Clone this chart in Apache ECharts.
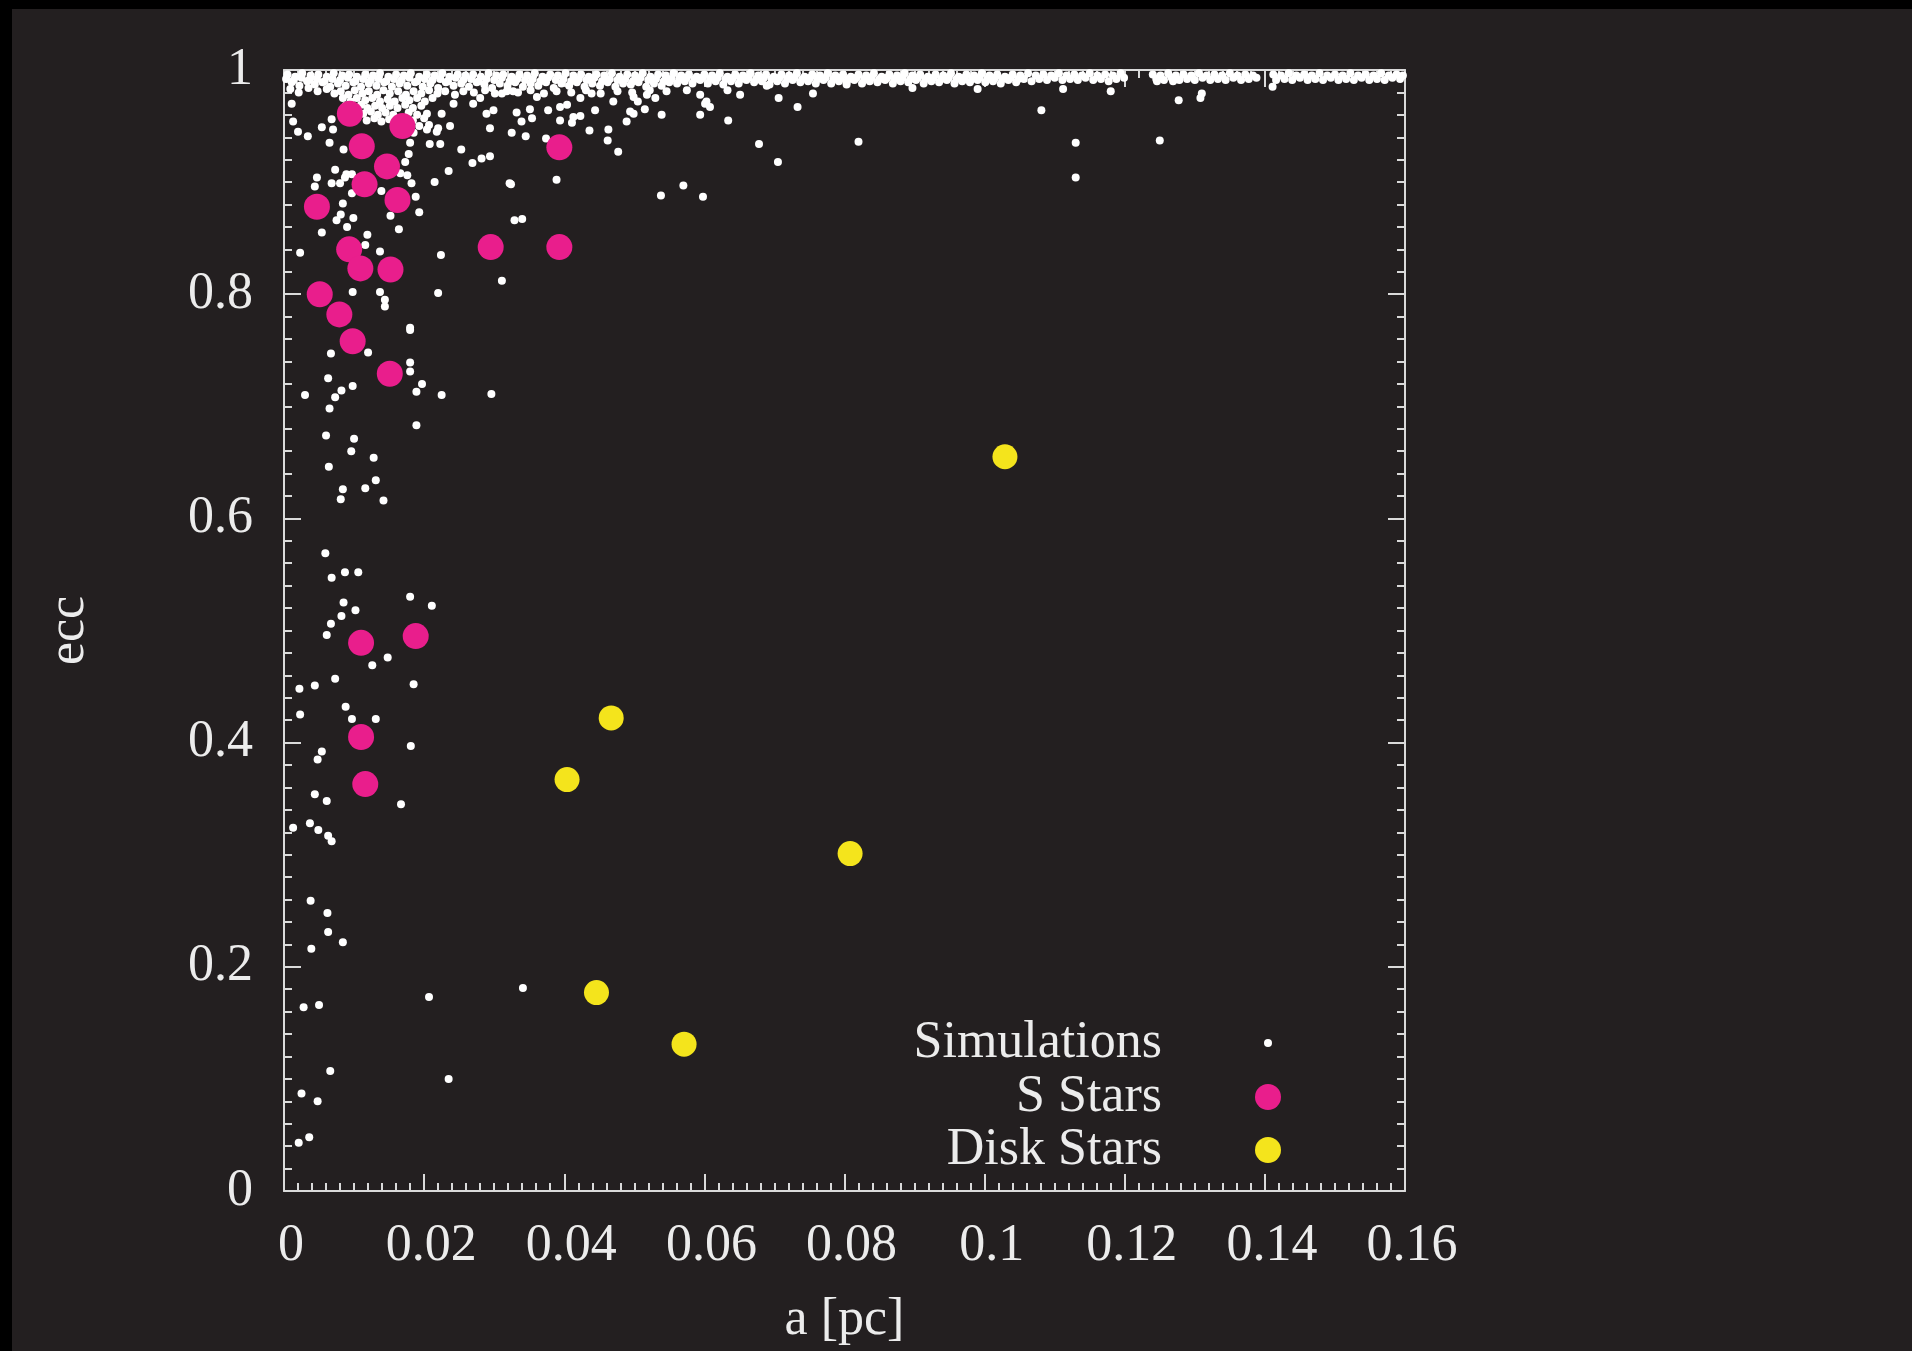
<!DOCTYPE html>
<html>
<head>
<meta charset="utf-8">
<script src="https://cdn.jsdelivr.net/npm/echarts@6/dist/echarts.min.js"></script>
<style>
  html, body { margin: 0; padding: 0; background: #000; width: 1912px; height: 1351px; overflow: hidden; }
  #chart { position: absolute; left: 12px; top: 9px; width: 1900px; height: 1342px; background: #231f20; }
</style>
</head>
<body>
<div id="chart"></div>
<script>
// Observed S stars: semi-major axis a [pc] and eccentricity
const sStarA = [0.0094, 0.0169, 0.0111, 0.0393, 0.0147, 0.0115, 0.0162, 0.0047, 0.0295, 0.0393, 0.0093,
                0.0109, 0.0152, 0.0051, 0.0079, 0.0098, 0.0151, 0.0110, 0.0188, 0.0110, 0.0116];
const sStarE = [0.961, 0.950, 0.932, 0.931, 0.914, 0.898, 0.884, 0.878, 0.842, 0.842, 0.840,
                0.823, 0.822, 0.800, 0.782, 0.758, 0.729, 0.489, 0.495, 0.405, 0.363];

// Observed disk stars
const diskA = [0.1029, 0.0467, 0.0404, 0.0808, 0.0446, 0.0571];
const diskE = [0.655, 0.422, 0.367, 0.301, 0.177, 0.131];

// Simulated orbits, [a, ecc]: the crowded near-radial band just below ecc = 1
const simBand = [
  [0.0005,0.996],[0.0016,0.994],[0.0026,0.997],[0.0038,0.995],[0.0049,0.996],[0.0061,0.994],[0.0071,0.997],[0.0083,0.995],
  [0.0093,0.996],[0.0104,0.994],[0.0116,0.996],[0.0127,0.995],[0.0137,0.997],[0.0149,0.994],[0.0160,0.996],[0.0171,0.995],
  [0.0181,0.997],[0.0193,0.994],[0.0204,0.996],[0.0215,0.995],[0.0226,0.997],[0.0236,0.994],[0.0248,0.996],[0.0259,0.995],
  [0.0270,0.996],[0.0281,0.994],[0.0292,0.997],[0.0303,0.995],[0.0313,0.996],[0.0325,0.994],[0.0336,0.996],[0.0347,0.995],
  [0.0358,0.997],[0.0369,0.994],[0.0380,0.996],[0.0391,0.995],[0.0402,0.997],[0.0413,0.995],[0.0424,0.996],[0.0435,0.994],
  [0.0446,0.996],[0.0457,0.995],[0.0468,0.997],[0.0479,0.994],[0.0490,0.996],[0.0501,0.995],[0.0512,0.997],[0.0523,0.994],
  [0.0534,0.996],[0.0545,0.995],[0.0556,0.997],[0.0567,0.995],[0.0578,0.996],[0.0589,0.994],[0.0600,0.996],[0.0611,0.995],
  [0.0622,0.997],[0.0633,0.994],[0.0644,0.996],[0.0655,0.995],[0.0666,0.997],[0.0677,0.995],[0.0688,0.996],[0.0699,0.994],
  [0.0710,0.996],[0.0721,0.995],[0.0732,0.997],[0.0743,0.994],[0.0754,0.996],[0.0765,0.995],[0.0776,0.997],[0.0787,0.995],
  [0.0798,0.996],[0.0809,0.994],[0.0820,0.996],[0.0831,0.995],[0.0842,0.997],[0.0853,0.994],[0.0864,0.996],[0.0875,0.995],
  [0.0886,0.997],[0.0897,0.995],[0.0908,0.996],[0.0919,0.994],[0.0930,0.996],[0.0941,0.995],[0.0952,0.997],[0.0963,0.994],
  [0.0974,0.996],[0.0985,0.995],[0.0996,0.997],[0.1007,0.995],[0.1018,0.996],[0.1029,0.994],[0.1040,0.996],[0.1051,0.995],
  [0.1062,0.997],[0.1073,0.995],[0.1084,0.996],[0.1095,0.995],[0.1106,0.997],[0.1117,0.995],[0.1128,0.996],[0.1139,0.995],
  [0.1150,0.997],[0.1161,0.995],[0.1172,0.996],[0.1183,0.995],[0.1194,0.997],[0.1240,0.996],[0.1251,0.995],[0.1262,0.997],
  [0.1273,0.995],[0.1284,0.996],[0.1295,0.995],[0.1306,0.997],[0.1317,0.995],[0.1328,0.996],[0.1339,0.995],[0.1350,0.997],
  [0.1361,0.995],[0.1372,0.996],[0.1383,0.995],[0.1412,0.996],[0.1423,0.995],[0.1434,0.997],[0.1445,0.995],[0.1456,0.996],
  [0.1467,0.995],[0.1478,0.997],[0.1489,0.995],[0.1500,0.996],[0.1511,0.995],[0.1522,0.997],[0.1533,0.995],[0.1544,0.996],
  [0.1555,0.995],[0.1566,0.997],[0.1577,0.995],[0.1588,0.996],[0.1597,0.995],
  [0.0003,0.992],[0.0014,0.991],[0.0025,0.993],[0.0036,0.991],[0.0047,0.992],[0.0058,0.990],[0.0069,0.992],[0.0080,0.991],
  [0.0091,0.993],[0.0102,0.990],[0.0113,0.992],[0.0124,0.991],[0.0135,0.992],[0.0146,0.990],[0.0157,0.992],[0.0168,0.991],
  [0.0179,0.993],[0.0190,0.990],[0.0201,0.992],[0.0212,0.991],[0.0223,0.992],[0.0234,0.990],[0.0245,0.993],[0.0256,0.991],
  [0.0267,0.992],[0.0278,0.990],[0.0289,0.992],[0.0300,0.991],[0.0311,0.993],[0.0322,0.990],[0.0333,0.992],[0.0344,0.991],
  [0.0355,0.992],[0.0366,0.990],[0.0377,0.993],[0.0388,0.991],[0.0399,0.992],[0.0410,0.990],[0.0421,0.992],[0.0432,0.991],
  [0.0443,0.993],[0.0454,0.990],[0.0465,0.992],[0.0476,0.991],[0.0487,0.992],[0.0498,0.990],[0.0509,0.993],[0.0520,0.991],
  [0.0531,0.992],[0.0542,0.990],[0.0553,0.992],[0.0564,0.992],[0.0575,0.993],[0.0586,0.992],[0.0597,0.993],[0.0608,0.992],
  [0.0619,0.993],[0.0630,0.992],[0.0641,0.993],[0.0652,0.992],[0.0663,0.993],[0.0674,0.992],[0.0685,0.993],[0.0696,0.992],
  [0.0707,0.993],[0.0718,0.992],[0.0729,0.993],[0.0740,0.992],[0.0751,0.993],[0.0762,0.992],[0.0773,0.993],[0.0784,0.992],
  [0.0795,0.993],[0.0806,0.992],[0.0817,0.993],[0.0828,0.992],[0.0839,0.993],[0.0850,0.992],[0.0861,0.993],[0.0872,0.992],
  [0.0883,0.993],[0.0894,0.992],[0.0905,0.993],[0.0916,0.992],[0.0927,0.993],[0.0938,0.992],[0.0949,0.993],[0.0960,0.992],
  [0.0971,0.993],[0.0982,0.992],[0.0993,0.993],[0.1004,0.992],[0.1015,0.993],[0.1026,0.992],[0.1037,0.993],[0.1048,0.992],
  [0.0011,0.989],[0.0022,0.986],[0.0033,0.990],[0.0044,0.987],[0.0055,0.989],[0.0066,0.985],[0.0077,0.988],[0.0088,0.986],
  [0.0099,0.989],[0.0110,0.985],[0.0121,0.988],[0.0132,0.986],[0.0143,0.989],[0.0154,0.985],[0.0165,0.988],[0.0176,0.986],
  [0.0187,0.989],[0.0198,0.985],[0.0209,0.988],[0.0220,0.984],[0.0231,0.989],[0.0242,0.986],[0.0253,0.988],[0.0264,0.985],
  [0.0275,0.989],[0.0286,0.987],[0.0297,0.984],[0.0308,0.988],[0.0319,0.986],[0.0330,0.989],[0.0341,0.985],[0.0352,0.988],
  [0.0363,0.986],[0.0374,0.989],[0.0385,0.984],[0.0396,0.988],[0.0407,0.986],[0.0418,0.989],[0.0429,0.985],[0.0440,0.988],
  [0.0451,0.986],[0.0462,0.989],[0.0473,0.985],[0.0484,0.988],[0.0495,0.987],[0.0506,0.989],[0.0517,0.985],[0.0528,0.988],
  [0.0539,0.986],[0.0550,0.989],[0.0561,0.988],[0.0572,0.990],[0.0583,0.988],[0.0594,0.991],[0.0605,0.988],[0.0616,0.990],
  [0.0627,0.987],[0.0638,0.990],[0.0649,0.988],[0.0660,0.991],[0.0671,0.989],[0.0682,0.990],[0.0693,0.987],[0.0704,0.990],
  [0.0715,0.988],[0.0726,0.991],[0.0737,0.989],[0.0748,0.990],[0.0759,0.988],[0.0770,0.991],[0.0781,0.988],[0.0792,0.990],
  [0.0803,0.989],[0.0814,0.991],[0.0825,0.988],[0.0836,0.990],[0.0847,0.989],[0.0858,0.991],[0.0869,0.988],[0.0880,0.990],
  [0.0891,0.989],[0.0902,0.991],[0.0913,0.988],[0.0924,0.990],[0.0935,0.989],[0.0946,0.991],[0.0957,0.988],[0.0968,0.990],
  [0.0979,0.989],[0.0990,0.991],[0.1001,0.989],[0.1012,0.990],[0.1023,0.988],[0.1034,0.991],[0.1045,0.989],[0.1056,0.992],
  [0.1067,0.990],[0.1078,0.992],[0.1089,0.991],[0.1100,0.993],[0.1111,0.991],[0.1122,0.992],[0.1133,0.991],[0.1144,0.993],
  [0.1155,0.991],[0.1166,0.992],[0.1177,0.990],[0.1188,0.992],[0.1199,0.993],[0.1245,0.992],[0.1256,0.991],[0.1267,0.993],
  [0.1278,0.991],[0.1289,0.992],[0.1300,0.991],[0.1311,0.993],[0.1322,0.991],[0.1333,0.992],[0.1344,0.991],[0.1355,0.993],
  [0.1366,0.991],[0.1377,0.992],[0.1388,0.993],[0.1416,0.991],[0.1428,0.992],[0.1439,0.991],[0.1450,0.993],[0.1461,0.991],
  [0.1472,0.992],[0.1483,0.991],[0.1494,0.993],[0.1505,0.991],[0.1516,0.992],[0.1527,0.991],[0.1538,0.993],[0.1549,0.991],
  [0.1560,0.992],[0.1571,0.991],[0.1582,0.993],[0.1593,0.992]
];

// Simulated orbits: the thick clump at small a just under the band
const simCore = [
  [0.0009,0.983],[0.0021,0.980],[0.0035,0.984],[0.0048,0.981],[0.0061,0.983],[0.0072,0.979],[0.0081,0.981],[0.0092,0.978],
  [0.0101,0.982],[0.0112,0.979],[0.0121,0.981],[0.0133,0.978],[0.0142,0.982],[0.0151,0.979],[0.0163,0.981],[0.0174,0.978],
  [0.0185,0.981],[0.0196,0.979],[0.0207,0.982],[0.0219,0.979],[0.0230,0.981],[0.0244,0.978],[0.0256,0.981],[0.0271,0.980],
  [0.0287,0.982],[0.0301,0.979],[0.0318,0.981],[0.0334,0.980],[0.0352,0.982],[0.0371,0.979],[0.0389,0.981],[0.0410,0.980],
  [0.0431,0.982],[0.0452,0.979],[0.0476,0.981],[0.0497,0.980],[0.0522,0.982],
  [0.0084,0.975],[0.0095,0.972],[0.0104,0.975],[0.0116,0.973],[0.0126,0.975],[0.0137,0.972],[0.0148,0.974],[0.0158,0.972],
  [0.0169,0.975],[0.0179,0.973],[0.0190,0.975],[0.0201,0.972],[0.0212,0.975],[0.0088,0.968],
  [0.0099,0.967],[0.0110,0.969],[0.0119,0.966],[0.0130,0.968],[0.0140,0.966],[0.0151,0.968],[0.0162,0.966],[0.0173,0.969],
  [0.0184,0.966],[0.0196,0.968],
  [0.0113,0.961],[0.0124,0.963],[0.0134,0.960],[0.0145,0.962],[0.0156,0.960],[0.0178,0.962],[0.0190,0.960],
  [0.0118,0.955],[0.0129,0.957],[0.0139,0.954],[0.0150,0.956],[0.0184,0.955],[0.0200,0.957],
  [0.0173,0.951],[0.0193,0.950],[0.0207,0.951],[0.0220,0.948]
];

// Simulated orbits: isolated points spread over the rest of the plane
const simField = [
  [0.0011,0.970],[0.0013,0.954],[0.0020,0.945],[0.0034,0.941],[0.0054,0.949],[0.0068,0.956],[0.0070,0.947],[0.0065,0.935],
  [0.0085,0.929],[0.0047,0.904],[0.0044,0.896],[0.0068,0.899],[0.0080,0.899],[0.0089,0.907],[0.0073,0.911],[0.0097,0.890],
  [0.0087,0.904],[0.0097,0.907],[0.0084,0.881],[0.0075,0.866],[0.0081,0.871],[0.0099,0.868],[0.0090,0.860],[0.0054,0.855],
  [0.0119,0.853],[0.0116,0.844],[0.0137,0.838],[0.0023,0.837],[0.0224,0.835],[0.0098,0.802],[0.0137,0.802],[0.0144,0.795],
  [0.0144,0.789],[0.0220,0.801],[0.0180,0.770],[0.0311,0.812],[0.0329,0.866],[0.0389,0.902],[0.0324,0.898],[0.0538,0.888],
  [0.0570,0.897],[0.0598,0.887],[0.0678,0.934],[0.0705,0.918],[0.0820,0.936],[0.1130,0.935],[0.1130,0.904],[0.1250,0.937],
  [0.0477,0.927],[0.0462,0.937],[0.0463,0.947],[0.0436,0.946],[0.0423,0.959],[0.0411,0.953],[0.0394,0.955],[0.0374,0.939],
  [0.0345,0.941],[0.0325,0.944],[0.0339,0.954],[0.0354,0.957],[0.0351,0.965],[0.0332,0.962],[0.0377,0.964],[0.0444,0.964],
  [0.0470,0.972],[0.0489,0.954],[0.0494,0.963],[0.0505,0.972],[0.0515,0.965],[0.0530,0.975],[0.0539,0.960],[0.0546,0.981],
  [0.0594,0.960],[0.0601,0.970],[0.0634,0.955],[0.0575,0.982],[0.0294,0.923],[0.0282,0.921],[0.0269,0.917],[0.0253,0.929],
  [0.0235,0.910],[0.0215,0.900],[0.0294,0.948],[0.0289,0.961],[0.0270,0.970],[0.0237,0.950],[0.0225,0.961],[0.0204,0.961],
  [0.0218,0.945],[0.0208,0.934],[0.0223,0.934],[0.0204,0.947],[0.0178,0.925],[0.0173,0.918],[0.0166,0.908],[0.0176,0.906],
  [0.0182,0.899],[0.0188,0.887],[0.0193,0.873],[0.0139,0.892],[0.0152,0.870],[0.0164,0.858],[0.0180,0.935],[0.0185,0.944],
  [0.0404,0.969],[0.0413,0.958],[0.0499,0.961],[0.0518,0.978],[0.0594,0.978],[0.0603,0.972],[0.0608,0.967],[0.0633,0.982],
  [0.0651,0.978],[0.0689,0.986],[0.0706,0.975],[0.0733,0.967],[0.0755,0.979],[0.0803,0.987],[0.0897,0.984],[0.0990,0.983],
  [0.1081,0.964],[0.1112,0.983],[0.1180,0.981],[0.1277,0.973],[0.1310,0.979],[0.1308,0.975],[0.1246,0.990],[0.1269,0.990],
  [0.1411,0.985],[0.0322,0.899],[0.0340,0.867],[0.0242,0.970],[0.0280,0.975],[0.0299,0.964],[0.0311,0.979],[0.0327,0.981],
  [0.0361,0.976],[0.0394,0.967],[0.0423,0.975],[0.0439,0.979],[0.0499,0.976],
  [0.0180,0.768],[0.0067,0.747],[0.0120,0.748],[0.0180,0.739],[0.0180,0.731],[0.0063,0.725],[0.0197,0.720],[0.0189,0.713],
  [0.0098,0.718],[0.0082,0.714],[0.0073,0.708],[0.0030,0.710],[0.0225,0.710],[0.0296,0.711],[0.0065,0.698],[0.0189,0.683],
  [0.0060,0.674],[0.0100,0.671],[0.0096,0.660],[0.0128,0.654],[0.0064,0.646],[0.0131,0.634],[0.0084,0.626],[0.0116,0.627],
  [0.0081,0.617],[0.0142,0.616],[0.0059,0.569],[0.0087,0.552],[0.0106,0.552],[0.0068,0.547],[0.0180,0.530],[0.0211,0.522],
  [0.0085,0.525],[0.0102,0.518],[0.0082,0.513],[0.0067,0.506],[0.0061,0.496],[0.0148,0.476],[0.0126,0.469],[0.0073,0.457],
  [0.0044,0.451],[0.0022,0.448],[0.0185,0.452],[0.0023,0.425],[0.0088,0.432],[0.0097,0.421],[0.0131,0.421],[0.0181,0.397],
  [0.0054,0.392],[0.0048,0.385],[0.0044,0.354],[0.0061,0.348],[0.0167,0.345],[0.0013,0.324],[0.0037,0.328],[0.0049,0.322],
  [0.0063,0.317],[0.0068,0.312],[0.0038,0.259],[0.0062,0.248],[0.0063,0.231],[0.0084,0.222],[0.0039,0.216],[0.0341,0.181],
  [0.0207,0.173],[0.0028,0.164],[0.0050,0.166],[0.0066,0.107],[0.0235,0.100],[0.0025,0.087],[0.0048,0.080],[0.0021,0.043],
  [0.0036,0.048]
];

const simData = simBand.concat(simCore, simField);
const sStarData = sStarA.map((a, i) => [a, sStarE[i]]);
const diskData = diskA.map((a, i) => [a, diskE[i]]);

const FONT = 'Liberation Serif';
const TXT = '#ececec';
const FRAME = '#dadada';

function axisBase(extra) {
  return Object.assign({
    type: 'value',
    axisLine: { show: true, onZero: false, lineStyle: { color: FRAME, width: 2 } },
    axisTick: { show: true, inside: true, length: 17, lineStyle: { color: FRAME, width: 2 } },
    minorTick: { show: true, splitNumber: 10, length: 8, lineStyle: { color: FRAME, width: 2 } },
    splitLine: { show: false },
    minorSplitLine: { show: false }
  }, extra);
}

const labelStyle = { color: TXT, fontFamily: FONT, fontSize: 52 };

const chart = echarts.init(document.getElementById('chart'), null, { renderer: 'canvas' });
chart.setOption({
  animation: false,
  backgroundColor: '#231f20',
  grid: { left: 272, top: 61, width: 1121, height: 1123, containLabel: false },
  xAxis: [
    axisBase({
      position: 'bottom', min: 0, max: 0.16, interval: 0.02,
      name: 'a [pc]', nameLocation: 'middle', nameGap: 103,
      nameTextStyle: labelStyle,
      axisLabel: Object.assign({ margin: 29, padding: [0, 0, 0, 14] }, labelStyle)
    }),
    axisBase({
      position: 'top', min: 0, max: 0.16, interval: 0.02,
      axisLabel: { show: false }
    })
  ],
  yAxis: [
    axisBase({
      position: 'left', min: 0, max: 1, interval: 0.2,
      name: 'ecc', nameLocation: 'middle', nameGap: 189, nameRotate: 90,
      nameTextStyle: labelStyle,
      axisLabel: Object.assign({ margin: 31 }, labelStyle)
    }),
    axisBase({
      position: 'right', min: 0, max: 1, interval: 0.2,
      axisLabel: { show: false }
    })
  ],
  legend: [
    {
      data: ['Simulations'], orient: 'vertical', align: 'right', selectedMode: false,
      right: 640, top: 1008, padding: 0, itemWidth: 8, itemHeight: 8, icon: 'circle',
      textStyle: Object.assign({ padding: [0, 97, 0, 0] }, labelStyle)
    },
    {
      data: ['S Stars'], orient: 'vertical', align: 'right', selectedMode: false,
      right: 631, top: 1062, padding: 0, itemWidth: 26, itemHeight: 26, icon: 'circle',
      textStyle: Object.assign({ padding: [0, 88, 0, 0] }, labelStyle)
    },
    {
      data: ['Disk Stars'], orient: 'vertical', align: 'right', selectedMode: false,
      right: 631, top: 1115, padding: 0, itemWidth: 26, itemHeight: 26, icon: 'circle',
      textStyle: Object.assign({ padding: [0, 88, 0, 0] }, labelStyle)
    }
  ],
  series: [
    {
      name: 'Simulations', type: 'scatter', data: simData, symbol: 'circle', symbolSize: 8,
      itemStyle: { color: '#ffffff', opacity: 1 }, clip: false, silent: true
    },
    {
      name: 'S Stars', type: 'scatter', data: sStarData, symbol: 'circle', symbolSize: 26,
      itemStyle: { color: '#e91e8c', opacity: 1 }, clip: false, silent: true, z: 3
    },
    {
      name: 'Disk Stars', type: 'scatter', data: diskData, symbol: 'circle', symbolSize: 25,
      itemStyle: { color: '#f4e41c', opacity: 1 }, clip: false, silent: true, z: 4
    }
  ]
});
</script>
</body>
</html>
